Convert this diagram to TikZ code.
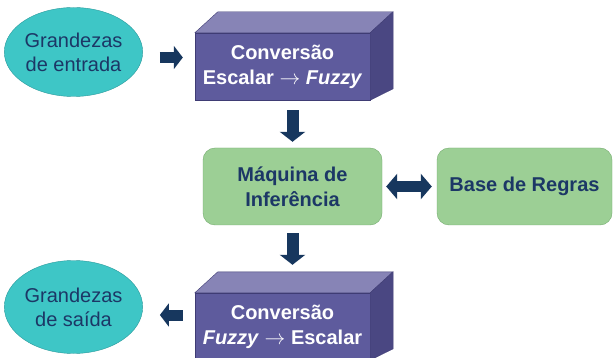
\documentclass[tikz,border=0pt]{standalone}
\usepackage{fontspec}
\setmainfont{Liberation Sans}
\usetikzlibrary{shapes.geometric,arrows.meta}
\definecolor{azulseta}{HTML}{17375E}
\definecolor{textoazul}{HTML}{1C3766}
\definecolor{fundoelipse}{HTML}{3EC6C6}
\definecolor{bordaelipse}{HTML}{2A9A9C}
\definecolor{frentecaixa}{HTML}{5E5B9D}
\definecolor{topocaixa}{HTML}{8784B6}
\definecolor{ladocaixa}{HTML}{4A4782}
\definecolor{bordacaixa}{HTML}{3F3C74}
\definecolor{fundoverde}{HTML}{9CCF95}
\definecolor{bordaverde}{HTML}{74AC6E}

\begin{document}
\begin{tikzpicture}[x=1pt,y=-1pt]
\tikzset{elipse/.style={draw=bordaelipse, fill=fundoelipse, ellipse, inner sep=0pt, minimum width=123pt, text=textoazul, align=center, font=\fontsize{20}{24}\selectfont},
caixa/.style={draw=bordacaixa, fill=frentecaixa, minimum width=175pt, minimum height=67pt, text=white, align=center, font=\fontsize{20}{25}\selectfont\bfseries},
verde/.style={draw=bordaverde, fill=fundoverde, rounded corners=12pt, minimum height=77pt, text=textoazul, align=center, font=\fontsize{20}{25}\selectfont\bfseries},
seta/.style={azulseta, line width=11pt, -{Triangle[width=23pt,length=9pt]}},
setadupla/.style={azulseta, line width=11pt, {Triangle[width=25pt,length=11pt]}-{Triangle[width=25pt,length=11pt]}}}
\clip (0,0) rectangle (613,358);
\fill[white] (0,0) rectangle (613,358);
\node[elipse, minimum height=89pt] (entrada) at (73.5,52) {Grandezas\\de entrada};
\node[elipse, minimum height=93pt] (saida) at (73.5,307) {Grandezas\\de saída};
\node[caixa] (conv1) at (282.5,66.5) {Conversão\\Escalar $\rightarrow$ \textit{Fuzzy}};
\node[caixa] (conv2) at (282.5,326.5) {Conversão\\\textit{Fuzzy} $\rightarrow$ Escalar};
\node[verde, minimum width=179pt] (maquina) at (292.5,186.5) {Máquina de\\Inferência};
\node[verde, minimum width=175pt] (base) at (524.5,186.5) {Base de Regras};
% faces do bloco
\filldraw[fill=topocaixa, draw=bordacaixa] (conv1.north west) -- ++(23,-21) -- ++(175,0) -- (conv1.north east) -- cycle;
\filldraw[fill=ladocaixa, draw=bordacaixa] (conv1.north east) -- ++(23,-21) -- ++(0,77) -- (conv1.south east) -- cycle;
\filldraw[fill=topocaixa, draw=bordacaixa] (conv2.north west) -- ++(23,-21) -- ++(175,0) -- (conv2.north east) -- cycle;
\filldraw[fill=ladocaixa, draw=bordacaixa] (conv2.north east) -- ++(23,-21) -- ++(0,77) -- (conv2.south east) -- cycle;
% setas
\draw[seta, shorten <=17pt, shorten >=12pt] ([yshift=-5.5pt]entrada.east) -- ([yshift=-5.5pt]entrada.east -| conv1.west);
\draw[seta, line width=12pt, -{Triangle[width=25pt,length=10pt]}, shorten <=10pt, shorten >=6pt] (conv1.south -| maquina.north) -- (maquina.north);
\draw[setadupla, shorten <=4pt, shorten >=5pt] (maquina.east) -- (base.west);
\draw[seta, line width=12pt, -{Triangle[width=25pt,length=10pt]}, shorten <=8pt, shorten >=28pt] (maquina.south) -- (maquina.south |- conv2.north);
\draw[seta, shorten <=12pt, shorten >=17pt] ([yshift=11.5pt]conv2.west) -- ([yshift=11.5pt]conv2.west -| saida.east);
\end{tikzpicture}
\end{document}
